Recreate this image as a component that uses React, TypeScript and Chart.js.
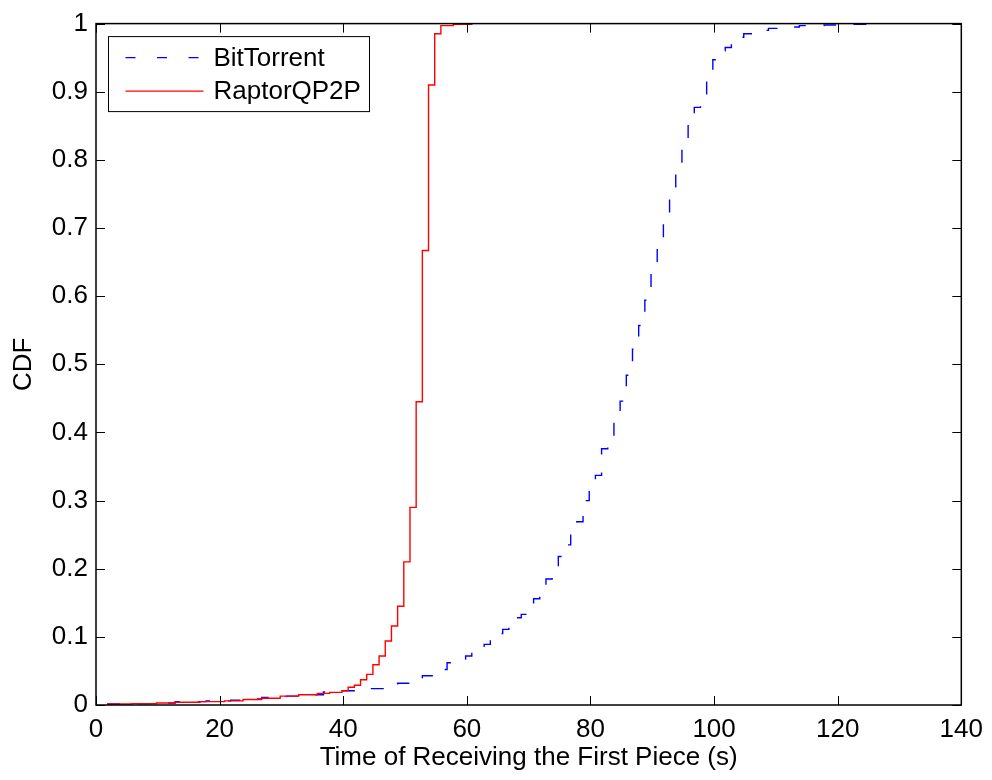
import React, { useEffect, useRef } from "react";
import { Chart, registerables } from "chart.js";

Chart.register(...registerables);

// ---- data ----
const seriesNames = ["BitTorrent", "RaptorQP2P"];

const bitTorrentTimes = [
  1.8, 5.8, 8.8, 12.8, 17.8, 21.8, 23.8, 26.8, 30.8, 34.8, 36.8, 39.8, 42.8, 46.8, 48.8,
  50.8, 52.8, 54.8, 55.8, 56.8, 58.8, 59.8, 60.8, 61.8, 62.8, 63.8, 64.8, 65.8, 66.8, 67.8,
  68.8, 69.8, 70.8, 71.8, 72.8, 73.8, 74.8, 75.8, 76.8, 77.8, 78.8, 79.8, 80.8, 81.8, 82.8,
  83.8, 84.8, 85.8, 86.8, 87.8, 88.8, 89.8, 90.8, 91.8, 92.8, 93.8, 94.8, 95.8, 96.8, 97.8,
  98.8, 99.8, 100.8, 101.8, 102.8, 103.8, 104.8, 106.8, 108.8, 110.8, 113.8, 117.8, 120.8, 124.8,
];
const bitTorrentCdf = [
  0.0015, 0.002, 0.003, 0.005, 0.006, 0.007, 0.009, 0.011, 0.013, 0.015, 0.019, 0.021, 0.024, 0.028, 0.032,
  0.039, 0.043, 0.048, 0.052, 0.062, 0.067, 0.072, 0.078, 0.084, 0.089, 0.099, 0.105, 0.111, 0.124, 0.128,
  0.133, 0.144, 0.156, 0.173, 0.185, 0.202, 0.218, 0.235, 0.255, 0.269, 0.3, 0.325, 0.337, 0.376, 0.393,
  0.431, 0.446, 0.484, 0.522, 0.557, 0.594, 0.633, 0.668, 0.706, 0.75, 0.784, 0.823, 0.861, 0.877, 0.895,
  0.931, 0.947, 0.96, 0.965, 0.972, 0.98, 0.985, 0.99, 0.993, 0.995, 0.997, 0.998, 0.999, 1.0,
];

const raptorTimes = [
  1.8, 5.8, 9.8, 12.8, 16.8, 20.8, 23.8, 26.8, 29.8, 32.8, 35.8, 37.8, 39.8, 40.8, 41.8,
  42.8, 43.8, 44.8, 45.8, 46.8, 47.8, 48.8, 49.8, 50.8, 51.8, 52.8, 53.8, 54.8, 55.8, 57.8, 60.8,
];
const raptorCdf = [
  0.0015, 0.002, 0.003, 0.004, 0.005, 0.006, 0.008, 0.01, 0.013, 0.015, 0.017, 0.0185, 0.021, 0.026, 0.029,
  0.037, 0.045, 0.059, 0.072, 0.094, 0.116, 0.145, 0.21, 0.29, 0.445, 0.667, 0.91, 0.985, 0.997, 0.999, 1.0,
];

const xTickValues = [0, 20, 40, 60, 80, 100, 120, 140];
const yTickValues = [0, 0.1, 0.2, 0.3, 0.4, 0.5, 0.6, 0.7, 0.8, 0.9, 1];

const xTitle = "Time of Receiving the First Piece (s)";
const yTitle = "CDF";

const FONT = "'Liberation Sans', Arial, Helvetica, sans-serif";
const BLUE = "#0000ff";
const RED = "#ff0000";
const BLUE_DASH = [13, 18];

const toPoints = (xs: number[], ys: number[]) => xs.map((x, i) => ({ x, y: ys[i] }));

const boxPlugin = {
  id: "matlabBox",
  afterDraw(chart: any) {
    const { ctx, chartArea, scales } = chart;
    const { left, right, top, bottom } = chartArea;
    const tickLen = 9;
    ctx.save();
    ctx.strokeStyle = "#000";
    ctx.lineWidth = 1;
    ctx.beginPath();
    xTickValues.forEach((v) => {
      const px = Math.round(scales.x.getPixelForValue(v)) + 0.5;
      ctx.moveTo(px, bottom);
      ctx.lineTo(px, bottom - tickLen);
      ctx.moveTo(px, top);
      ctx.lineTo(px, top + tickLen);
    });
    yTickValues.forEach((v) => {
      const py = Math.round(scales.y.getPixelForValue(v)) + 0.5;
      ctx.moveTo(left, py);
      ctx.lineTo(left + tickLen, py);
      ctx.moveTo(right, py);
      ctx.lineTo(right - tickLen, py);
    });
    ctx.stroke();
    ctx.lineWidth = 1.5;
    ctx.strokeRect(left, top, right - left, bottom - top);

    // legend
    const lx = left + 12.5;
    const ly = top + 13;
    const lw = 261;
    const lh = 75;
    ctx.fillStyle = "#fff";
    ctx.fillRect(lx, ly, lw, lh);
    ctx.lineWidth = 1;
    ctx.strokeStyle = "#000";
    ctx.strokeRect(lx, ly, lw, lh);
    const rows = [
      { name: seriesNames[0], color: BLUE, dash: [10, 21.5], y: ly + 21 },
      { name: seriesNames[1], color: RED, dash: [], y: ly + 54.5 },
    ];
    rows.forEach((r) => {
      ctx.beginPath();
      ctx.setLineDash(r.dash);
      ctx.strokeStyle = r.color;
      ctx.lineWidth = 1.3;
      ctx.moveTo(lx + 17, r.y);
      ctx.lineTo(lx + 95, r.y);
      ctx.stroke();
      ctx.setLineDash([]);
      ctx.fillStyle = "#000";
      ctx.font = `26px ${FONT}`;
      ctx.textAlign = "left";
      ctx.textBaseline = "middle";
      ctx.fillText(r.name, lx + 105, r.y + 1);
    });
    ctx.restore();
  },
};

export default function App() {
  const canvasRef = useRef<HTMLCanvasElement | null>(null);

  useEffect(() => {
    const canvas = canvasRef.current;
    if (!canvas) return;
    const chart = new Chart(canvas, {
      type: "line",
      data: {
        datasets: [
          {
            label: seriesNames[0],
            data: toPoints(bitTorrentTimes, bitTorrentCdf),
            borderColor: BLUE,
            borderWidth: 1.4,
            borderDash: BLUE_DASH,
            stepped: "before",
            pointRadius: 0,
            fill: false,
            order: 1,
          },
          {
            label: seriesNames[1],
            data: toPoints(raptorTimes, raptorCdf),
            borderColor: RED,
            borderWidth: 1.4,
            stepped: "before",
            pointRadius: 0,
            fill: false,
            order: 0,
          },
        ],
      },
      options: {
        animation: false,
        responsive: false,
        maintainAspectRatio: false,
        layout: { padding: { left: 0, right: 26, top: 20, bottom: 0 } },
        plugins: {
          legend: { display: false },
          tooltip: { enabled: false },
        },
        scales: {
          x: {
            type: "linear",
            min: 0,
            max: 140,
            afterFit: (s: any) => {
              s.height = 75;
            },
            afterBuildTicks: (s: any) => {
              s.ticks = xTickValues.map((v) => ({ value: v }));
            },
            ticks: {
              color: "#000",
              font: { family: FONT, size: 26 },
              padding: 9,
              maxRotation: 0,
              autoSkip: false,
              callback: (v: any) => String(v),
            },
            grid: { display: false, drawTicks: false, tickLength: 0 },
            border: { display: false },
            title: {
              display: true,
              text: xTitle,
              color: "#000",
              font: { family: FONT, size: 26 },
              padding: { top: 0, bottom: 7 },
            },
          },
          y: {
            type: "linear",
            min: 0,
            max: 1,
            afterFit: (s: any) => {
              s.width = 96;
            },
            afterBuildTicks: (s: any) => {
              s.ticks = yTickValues.map((v) => ({ value: v }));
            },
            ticks: {
              color: "#000",
              font: { family: FONT, size: 26 },
              padding: 8,
              autoSkip: false,
              callback: (v: any) => String(+Number(v).toFixed(1)),
            },
            grid: { display: false, drawTicks: false, tickLength: 0 },
            border: { display: false },
            title: {
              display: true,
              text: yTitle,
              color: "#000",
              font: { family: FONT, size: 26 },
              padding: { top: 8, bottom: 0 },
            },
          },
        },
      },
      plugins: [boxPlugin],
    });
    return () => chart.destroy();
  }, []);

  return (
    <div style={{ position: "absolute", left: 0, top: 0, width: 992, height: 780, background: "#fff" }}>
      <canvas ref={canvasRef} width={992} height={780} style={{ display: "block" }} />
    </div>
  );
}
